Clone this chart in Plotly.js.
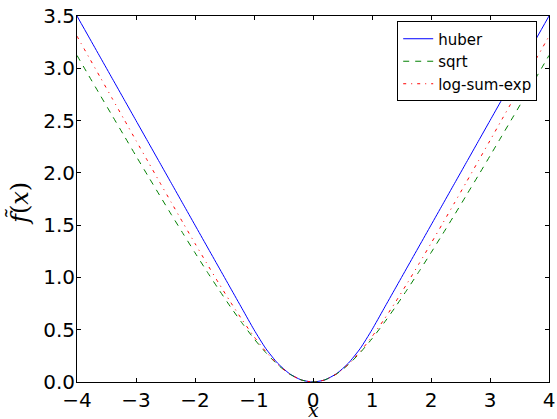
<!DOCTYPE html>
<html><head><meta charset="utf-8">
<script src="https://cdn.plot.ly/plotly-3.0.1.min.js"></script>
<style>body{margin:0;background:#fff}#c{width:557px;height:419px}</style>
</head><body><div id="c"></div>
<script>
var xs = [-4.0,-3.8,-3.6,-3.4,-3.2,-3.0,-2.8,-2.6,-2.4,-2.2,-2.0,-1.8,-1.6,-1.4,-1.2,-1.0,-0.8,-0.6,-0.4,-0.2,0.0,
          0.2,0.4,0.6,0.8,1.0,1.2,1.4,1.6,1.8,2.0,2.2,2.4,2.6,2.8,3.0,3.2,3.4,3.6,3.8,4.0];
var huber = [3.5,3.3,3.1,2.9,2.7,2.5,2.3,2.1,1.9,1.7,1.5,1.3,1.1,0.9,0.7,0.5,0.32,0.18,0.08,0.02,0.0,
             0.02,0.08,0.18,0.32,0.5,0.7,0.9,1.1,1.3,1.5,1.7,1.9,2.1,2.3,2.5,2.7,2.9,3.1,3.3,3.5];
var sqrtv = [3.123,2.929,2.736,2.544,2.353,2.162,1.973,1.786,1.600,1.417,1.236,1.059,0.887,0.720,0.562,0.414,0.281,0.166,0.077,0.020,0.0,
             0.020,0.077,0.166,0.281,0.414,0.562,0.720,0.887,1.059,1.236,1.417,1.600,1.786,1.973,2.162,2.353,2.544,2.736,2.929,3.123];
var lse = [3.307,3.107,2.908,2.708,2.509,2.309,2.111,1.912,1.715,1.519,1.325,1.134,0.947,0.766,0.594,0.434,0.291,0.170,0.078,0.020,0.0,
           0.020,0.078,0.170,0.291,0.434,0.594,0.766,0.947,1.134,1.325,1.519,1.715,1.912,2.111,2.309,2.509,2.708,2.908,3.107,3.307];
var names = ['huber','sqrt','log-sum-exp'];
var xticks = [-4,-3,-2,-1,0,1,2,3,4];
var yticks = [0,0.5,1,1.5,2,2.5,3,3.5];
var ytickText = ['0.0','0.5','1.0','1.5','2.0','2.5','3.0','3.5'];

var traces = [
  {x: xs, y: huber, name: names[0], mode: 'lines', line: {color: '#0000ff', width: 1, shape: 'spline', smoothing: 0.6}},
  {x: xs, y: sqrtv, name: names[1], mode: 'lines', line: {color: '#008000', width: 1, dash: '6px,6px', shape: 'spline', smoothing: 0.6}},
  {x: xs, y: lse, name: names[2], mode: 'lines', line: {color: '#ff0000', width: 1, dash: '3px,5px,1px,5px', shape: 'spline', smoothing: 0.6}}
];
var ax = {showline: true, linecolor: '#000', linewidth: 1, mirror: 'ticks', ticks: 'inside', ticklen: 4,
          tickcolor: '#000', showgrid: false, zeroline: false, tickfont: {family: 'DejaVu Sans', size: 20, color: '#000'}};
var layout = {
  width: 557, height: 419,
  margin: {l: 77, r: 8, t: 16, b: 37},
  paper_bgcolor: '#fff', plot_bgcolor: '#fff',
  showlegend: true,
  xaxis: Object.assign({}, ax, {range: [-4, 4], tickvals: xticks, ticktext: xticks.map(function(v){return v<0?'\u2212'+(-v):String(v);})}),
  yaxis: Object.assign({}, ax, {range: [0, 3.5], tickvals: yticks, ticktext: ytickText, ticklabelstandoff: -3}),
  legend: {x: 0.975, y: 0.985, xanchor: 'right', yanchor: 'top', bgcolor: '#fff', bordercolor: '#000', borderwidth: 1,
           font: {family: 'DejaVu Sans', size: 15, color: '#000'}, tracegroupgap: 0, itemwidth: 30},
  annotations: [
    {text: '<i>x</i>', xref: 'paper', yref: 'paper', x: 0.5, y: 0, yshift: -28, xanchor: 'center', yanchor: 'middle',
     showarrow: false, borderpad: 0, font: {family: 'DejaVu Serif', size: 19, color: '#000'}},
    {text: '<i>f\u0303</i>(<i>x</i>)', xref: 'paper', yref: 'paper', x: 0, y: 0.5, xshift: -58, yshift: -5, textangle: -90,
     xanchor: 'center', yanchor: 'middle', showarrow: false, font: {family: 'DejaVu Serif', size: 24, color: '#000'}}
  ]
};
Plotly.newPlot('c', traces, layout, {displayModeBar: false, staticPlot: true});
</script></body></html>
